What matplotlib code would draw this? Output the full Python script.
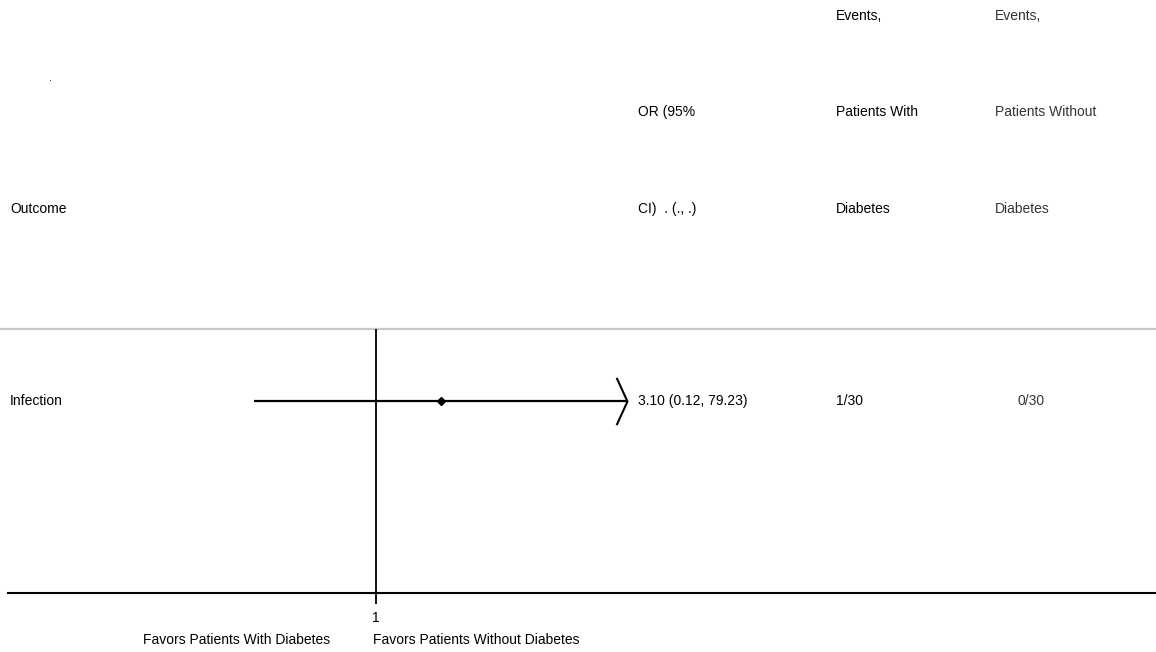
import numpy as np
import matplotlib
matplotlib.use('Agg')
from matplotlib import pyplot as plt
from matplotlib.path import Path
from matplotlib.transforms import blended_transform_factory

# data
outcomes = ['Infection']
or_est = [3.10]
ci_lo = [0.12]
ci_hi = [79.23]
events_with = ['1/30']
events_without = ['0/30']

header_or = ['OR (95%', 'CI)  . (., .)']
header_with = ['Events,', 'Patients With', 'Diabetes']
header_without = ['Events,', 'Patients Without', 'Diabetes']
favors = ['Favors Patients With Diabetes', 'Favors Patients Without Diabetes']

plt.rcParams['font.family'] = ['Liberation Sans', 'DejaVu Sans']
plt.rcParams['font.size'] = 10

W, H = 1156, 652
fig = plt.figure(figsize=(W / 100, H / 100), dpi=100)
fig.patch.set_facecolor('white')

# background axes in pixel units for the table text
bg = fig.add_axes([0, 0, 1, 1])
bg.set_xlim(0, W)
bg.set_ylim(H, 0)
bg.axis('off')

bg.text(49, 78, '.', ha='left', va='center', fontsize=8)
bg.text(10, 209, 'Outcome', ha='left', va='center')
for y, s in zip([112, 209], header_or):
    bg.text(638, y, s, ha='left', va='center', color='black')
for y, s in zip([16, 112, 209], header_with):
    bg.text(836, y, s, ha='left', va='center', color='black')
for y, s in zip([16, 112, 209], header_without):
    bg.text(995, y, s, ha='left', va='center', color='#333333')
bg.axhline(329, color='#c8c8c8', lw=1.6)

# forest plot axes, log odds ratio scale
top, bottom, left = 329, 593, 8
ax = fig.add_axes([left / W, (H - bottom) / H, (W - left) / W, (bottom - top) / H])
ax.set_facecolor('none')
ax.set_xscale('log')
px_per_ln = 57.5
ax.set_xlim(np.exp((left - 376) / px_per_ln), np.exp((W - 376) / px_per_ln))
ax.set_ylim(-(bottom - 401) / (401 - top), 1)

ax.axvline(1, color='black', lw=1.3)

# open chevron drawn at the upper CI limit (arrow marker)
chevron = Path([(-0.46, -1), (0, 0), (-0.46, 1)], [Path.MOVETO, Path.LINETO, Path.LINETO])
tr = blended_transform_factory(fig.transFigure, ax.transData)
for i, name in enumerate(outcomes):
    y = -i
    ax.plot([ci_lo[i], ci_hi[i]], [y, y], color='black', lw=1.6, solid_capstyle='butt')
    ax.plot([or_est[i]], [y], marker='D', color='black', markersize=4)
    ax.plot([ci_hi[i]], [y], marker=chevron, markersize=34, markerfacecolor='none',
            markeredgecolor='black', markeredgewidth=1.5, linestyle='none')
    ax.text(10 / W, y, name, transform=tr, ha='left', va='center')
    ax.text(638 / W, y, f'{or_est[i]:.2f} ({ci_lo[i]:.2f}, {ci_hi[i]:.2f})',
            transform=tr, ha='left', va='center', color='black')
    ax.text(836 / W, y, events_with[i], transform=tr, ha='left', va='center', color='black')
    ax.text(1017 / W, y, events_without[i], transform=tr, ha='left', va='center', color='#333333')

for s in ['top', 'left', 'right']:
    ax.spines[s].set_visible(False)
ax.spines['bottom'].set_linewidth(1.5)
ax.set_yticks([])
ax.set_xticks([1])
ax.set_xticklabels(['1'])
ax.xaxis.set_minor_locator(matplotlib.ticker.NullLocator())
ax.tick_params(axis='x', length=8, width=1.3, pad=5, labelsize=10)

bg.text(237, 640, favors[0], ha='center', va='center')
bg.text(373, 640, favors[1], ha='left', va='center')

fig.savefig('out.png', dpi=100)
